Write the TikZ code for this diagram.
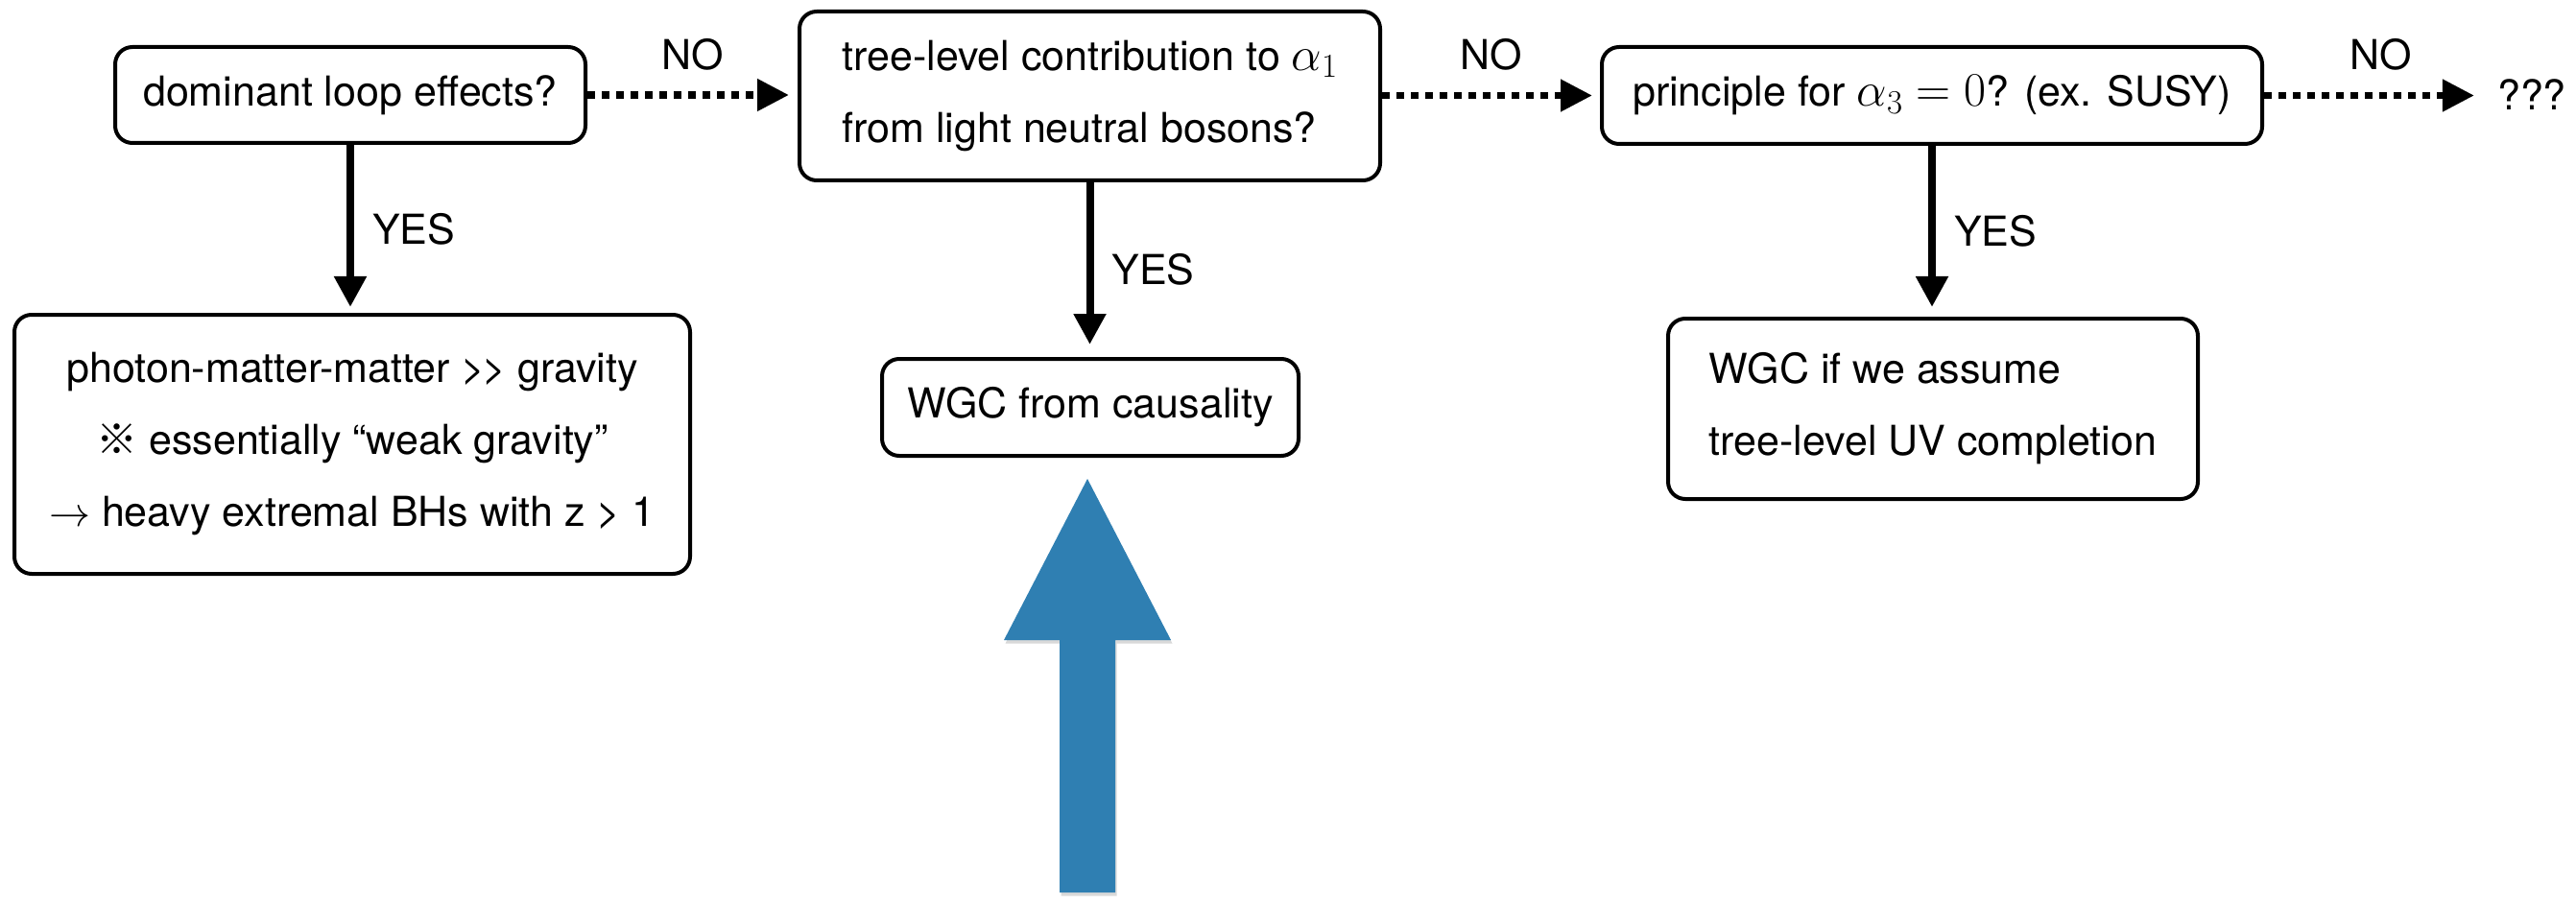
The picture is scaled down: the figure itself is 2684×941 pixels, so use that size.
\RequirePackage{fix-cm}
\documentclass[tikz,border=0pt]{standalone}
\usepackage[no-math]{fontspec}
\setmainfont{TeX Gyre Heros}
\newfontfamily\cjkfont{Noto Sans CJK JP}
\usetikzlibrary{arrows.meta}
\definecolor{bluearrow}{RGB}{47,127,178}
\newcommand{\bigmath}[1]{{\fontsize{50}{60}\selectfont$#1$}}
\begin{document}
\begin{tikzpicture}[x=1pt,y=-1pt,
  box/.style={draw, line width=4pt, rounded corners=18pt, inner sep=0pt,
              font=\fontsize{43}{75}\selectfont},
  lbl/.style={font=\fontsize{43}{52}\selectfont, inner sep=0pt},
  yesarrow/.style={line width=8pt, -{Triangle[length=32pt,width=32pt]}},
  noarrow/.style={line width=7.5pt, dash pattern=on 7.5pt off 7.5pt,
                  -{Triangle[length=33pt,width=32pt]}},
]
\useasboundingbox (0,0) rectangle (2684,941);

% boxes
\node[box, minimum width=490pt, minimum height=100pt] (n1) at (365,99)
  {dominant loop effects?};
\node[box, minimum width=605pt, minimum height=176pt, align=left] (n2) at (1135.5,100)
  {tree-level contribution to \bigmath{\alpha_1}\\from light neutral bosons?};
\node[box, minimum width=688pt, minimum height=101pt] (n3) at (2013,99.5)
  {principle for \bigmath{\alpha_3=0}? (ex. SUSY)};
\node[box, minimum width=704pt, minimum height=270pt, align=center] (n4) at (367,463)
  {photon-matter-matter >\kern-4pt> gravity\\{\cjkfont ※} essentially “weak gravity”\\$\rightarrow$ heavy extremal BHs with z > 1};
\node[box, minimum width=434pt, minimum height=101pt] (n5) at (1136,424.5)
  {WGC from causality};
\node[box, minimum width=552pt, minimum height=188pt, align=left] (n6) at (2014,426)
  {WGC if we assume\\tree-level UV completion};
\node[lbl] (q) at (2638,99) {???};

% YES arrows
\draw[yesarrow, shorten >=6pt] (n1.south) -- (n1.south |- n4.north)
  node[lbl, midway, right=19pt] {YES};
\draw[yesarrow, shorten >=13pt] (n2.south) -- (n2.south |- n5.north)
  node[lbl, midway, right=19pt] {YES};
\draw[yesarrow, shorten >=10pt] (n3.south) -- (n3.south |- n6.north)
  node[lbl, midway, right=19pt] {YES};

% NO arrows
\draw[noarrow, shorten >=9pt] (n1.east) -- (n1.east -| n2.west)
  node[lbl, midway, above=22pt] {NO};
\draw[noarrow, shorten >=8pt] (n2.east |- n3.west) -- (n3.west)
  node[lbl, midway, above=22pt] {NO};
\draw[noarrow, shorten >=24pt] (n3.east) -- (n3.east -| q.west)
  node[lbl, midway, above=22pt] {NO};

% big blue arrow
\fill[black, opacity=0.15, shift={(1.5,3.5)}]
  (1104,930) -- (1104,667) -- (1046,667) -- (1133,499) -- (1220,667)
  -- (1162,667) -- (1162,930) -- cycle;
\fill[bluearrow]
  (1104,930) -- (1104,667) -- (1046,667) -- (1133,499) -- (1220,667)
  -- (1162,667) -- (1162,930) -- cycle;
\end{tikzpicture}
\end{document}
